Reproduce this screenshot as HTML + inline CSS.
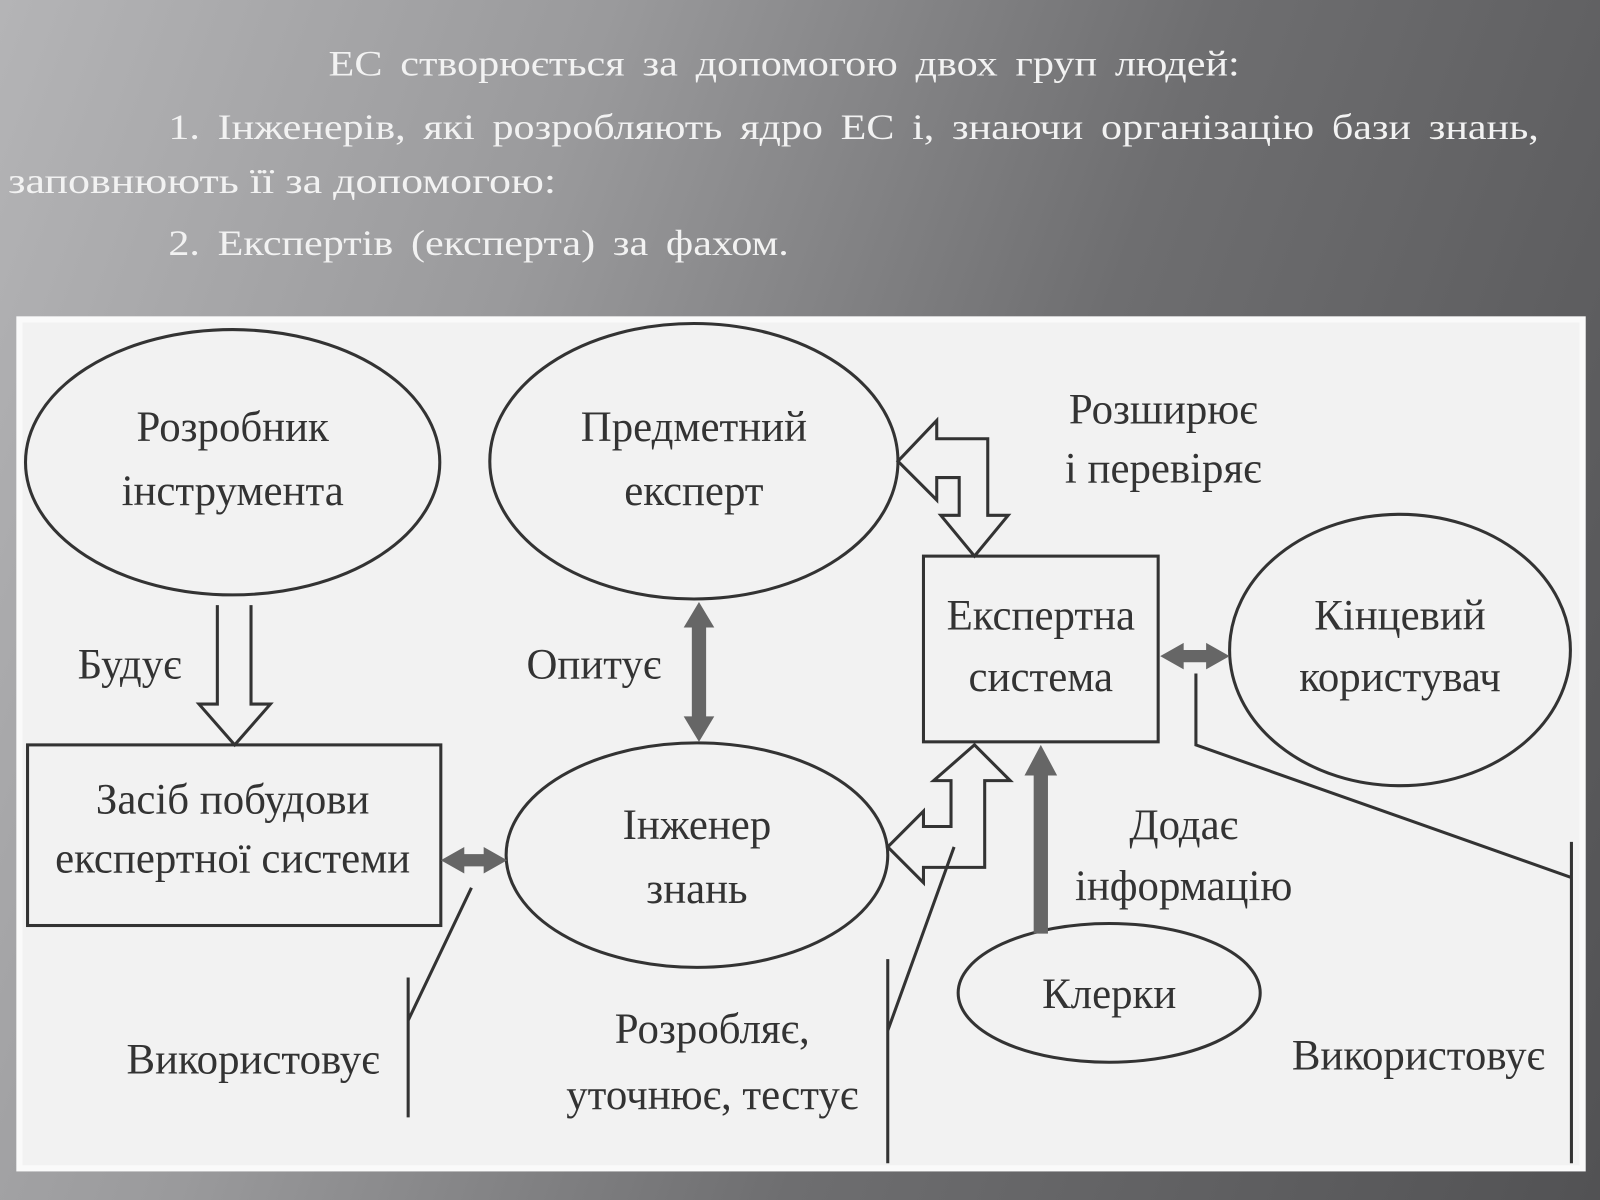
<!DOCTYPE html>
<html><head><meta charset="utf-8"><style>
html,body{margin:0;padding:0;width:1600px;height:1200px;overflow:hidden;}
body{background:linear-gradient(110deg,#b4b4b6 0%,#9a9a9c 30%,#6e6e70 60%,#525254 100%);}
svg{display:block}
</style></head><body>
<svg width="1600" height="1200" viewBox="0 0 1568 1176" preserveAspectRatio="none" xmlns="http://www.w3.org/2000/svg">
<g font-family="Liberation Serif, serif" fill="#f2f2f2" font-size="35">
<text x="322" y="74" textLength="893" lengthAdjust="spacingAndGlyphs" word-spacing="6">ЕС створюється за допомогою двох груп людей:</text>
<text x="165" y="136" textLength="1343" lengthAdjust="spacingAndGlyphs" word-spacing="6">1. Інженерів, які розробляють ядро ЕС і, знаючи організацію бази знань,</text>
<text x="8" y="189" textLength="537" lengthAdjust="spacingAndGlyphs">заповнюють її за допомогою:</text>
<text x="165" y="250" textLength="608" lengthAdjust="spacingAndGlyphs" word-spacing="6">2. Експертів (експерта) за фахом.</text>
</g>
<rect x="16" y="310" width="1538" height="838" fill="#fafafa"/>
<rect x="22" y="316" width="1526" height="826" fill="#f2f2f2"/>
<g fill="none" stroke="#333" stroke-width="3">
<ellipse cx="228" cy="453" rx="203" ry="130"/>
<ellipse cx="680" cy="452" rx="200" ry="135"/>
<rect x="905" y="545" width="230" height="182"/>
<ellipse cx="1372" cy="637" rx="167" ry="133"/>
<rect x="27" y="730" width="405" height="177"/>
<ellipse cx="683" cy="838" rx="187" ry="110"/>
<ellipse cx="1087" cy="973" rx="148" ry="68"/>
<path d="M213 593 V690 H195 L230 730 L265 690 H246 V593"/>
<path d="M880 452 L918 412 V430 H968 V505 H988 L955 545 L922 505 H940 V468 H918 V490 Z"/>
<path d="M870 830 L905 795 V810 H932 V765 H915 L955 730 L990 765 H965 V850 H905 V865 Z"/>
<path d="M462 870 L400 1000 M400 958 V1095"/>
<path d="M935 830 L870 1010 M870 940 V1140"/>
<path d="M1172 660 V730 L1540 860 M1540 825 V1140"/>
</g>
<g fill="#666" stroke="none">
<polygon points="685,590 700,615 692,615 692,702 700,702 685,727 670,702 678,702 678,615 670,615"/>
<polygon points="432,843 455,830 455,837 474,837 474,830 497,843 474,856 474,849 455,849 455,856"/>
<polygon points="1137,643 1160,630 1160,637 1182,637 1182,630 1205,643 1182,656 1182,649 1160,649 1160,656"/>
<polygon points="1020,730 1036,760 1027,760 1027,915 1013,915 1013,760 1004,760"/>
</g>
<g font-family="Liberation Serif, serif" fill="#333" font-size="42" text-anchor="middle">
<text x="228" y="432">Розробник</text>
<text x="228" y="495">інструмента</text>
<text x="680" y="432">Предметний</text>
<text x="680" y="495">експерт</text>
<text x="1140" y="415">Розширює</text>
<text x="1140" y="473">і перевіряє</text>
<text x="1020" y="617">Експертна</text>
<text x="1020" y="677">система</text>
<text x="1372" y="617">Кінцевий</text>
<text x="1372" y="677">користувач</text>
<text x="127" y="665">Будує</text>
<text x="582" y="665">Опитує</text>
<text x="228" y="797">Засіб побудови</text>
<text x="228" y="855">експертної системи</text>
<text x="683" y="822">Інженер</text>
<text x="683" y="885">знань</text>
<text x="1160" y="822">Додає</text>
<text x="1160" y="882">інформацію</text>
<text x="1087" y="988">Клерки</text>
<text x="248" y="1052">Використовує</text>
<text x="698" y="1022">Розробляє,</text>
<text x="698" y="1087">уточнює, тестує</text>
<text x="1390" y="1048">Використовує</text>
</g>
</svg>
</body></html>
